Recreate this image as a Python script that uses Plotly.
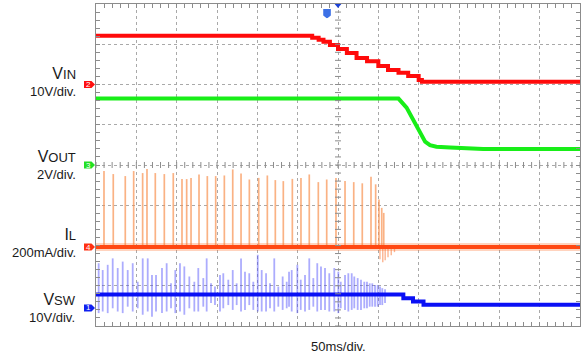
import plotly.graph_objects as go

# Scope screen: 12 horizontal divisions at 50 ms/div, 8 vertical divisions
T_SPAN = 600.0
N_YDIV = 8

# Channel setup: ground level (divisions from bottom) and units per division
VIN_GND, VIN_SCALE = 6.0, 10.0      # V/div
VOUT_GND, VOUT_SCALE = 4.0, 2.0     # V/div
IL_GND, IL_SCALE = 1.96, 200.0      # mA/div
VSW_GND, VSW_SCALE = 0.45, 10.0     # V/div

# VIN (V) - stepped ramp down
vin_t = [0, 268, 276, 282, 290, 300, 311, 323, 336, 350, 362, 375, 387, 400, 404, 600]
vin_v = [12.1, 11.6, 11.1, 10.6, 9.8, 8.8, 7.8, 6.6, 5.8, 4.6, 3.6, 2.9, 2.1, 1.1, 0.7, 0.7]

# VOUT (V)
vout_t = [0, 375, 385, 395, 402, 408, 414, 422, 439, 480, 600]
vout_v = [3.3, 3.3, 2.85, 2.1, 1.6, 1.16, 0.99, 0.91, 0.87, 0.80, 0.80]

# VSW average level (V)
vsw_t = [0, 381, 393, 406, 600]
vsw_v = [3.3, 2.4, 1.6, 0.75, 0.75]

# Inductor current bursts: time (ms) and peak (mA)
il_spk_t = [9.9, 21.4, 36.3, 46.7, 57.8, 63.2, 73.5, 84.7, 95.8, 106.6, 112.4,
            117.8, 127.7, 138.0, 148.4, 159.1, 169.5, 179.8, 190.1, 201.7, 212.4,
            222.3, 232.2, 243.4, 254.1, 264.4, 275.6, 286.0, 297.5, 308.7, 319.5,
            330.1, 340.9, 346.7, 350.8, 354.2, 356.7]
il_spk_pk = [378, 363, 353, 378, 368, 388, 368, 363, 368, 338, 338,
             344, 361, 353, 353, 356, 386, 366, 336, 344, 356,
             333, 328, 339, 344, 361, 323, 336, 344, 328, 323,
             317, 349, 312, 237, 195, 170]
# Ringing dips after the last bursts (ms, mA)
il_dip_t = [352.0, 355.5, 358.5, 362.0, 366.0, 370.0]
il_dip_v = [-60, -75, -65, -50, -40, -25]

# Switch node bursts: time (ms), top (V), bottom (V)
vsw_spk_t = [3.3, 8.3, 14.5, 20.7, 26.9, 33.1, 39.3, 45.5, 51.7, 57.9, 64.1,
             69.4, 74.4, 81.8, 87.6, 93.0, 98.3, 104.1, 109.5, 115.7, 121.9,
             126.8, 133.0, 137.2, 142.6, 147.5, 153.7, 157.8, 164.0, 169.5, 174.4,
             179.8, 184.7, 190.0, 195.0, 200.5, 205.4, 210.8, 215.7, 221.0, 226.0,
             231.4, 236.4, 239.3, 242.6, 249.6, 253.8, 259.1, 264.4, 269.4, 274.3,
             278.9, 283.9, 289.2, 295.4, 300.4, 303.4, 308.7, 312.8, 317.0, 320.2,
             324.4, 328.5, 332.6, 335.9, 339.3, 342.5, 345.9, 349.2, 352.1, 354.9,
             358.3]
vsw_spk_top = [11.1, 9.4, 10.7, 12.3, 9.9, 11.5, 9.4, 11.1, 6.5, 12.3, 12.3,
               8.2, 8.2, 9.9, 11.1, 6.1, 9.4, 11.1, 10.3, 7.8, 6.5,
               9.9, 7.4, 12.3, 6.1, 5.3, 8.2, 8.6, 7.0, 9.4, 6.1,
               12.3, 9.0, 8.6, 6.5, 13.2, 9.4, 8.6, 6.1, 12.3, 5.3,
               7.8, 6.5, 9.0, 9.4, 10.7, 7.0, 8.2, 12.3, 7.4, 11.1,
               10.3, 9.9, 8.6, 9.9, 9.0, 6.5, 8.2, 8.6, 8.6, 7.8,
               7.4, 7.0, 6.5, 6.5, 6.1, 6.1, 5.7, 5.7, 5.3, 4.9,
               4.6]
vsw_spk_bot = [-1.3, -0.9, -1.3, -0.1, -0.9, -1.3, 0.3, -0.9, -0.1, -1.7, -0.9,
               -2.2, -0.9, -1.3, -0.9, -0.1, -1.3, -0.9, -1.7, -0.1, -0.9,
               -0.9, 0.3, -0.9, 1.2, 0.7, -0.9, -0.1, 0.7, -0.5, 0.7,
               -0.9, -0.5, 0.7, -0.5, -0.9, -0.9, -0.9, -0.1, -0.9, 0.3,
               -0.5, -0.1, 0.3, -0.9, -1.3, -0.5, -0.9, -0.5, 0.3, -0.9,
               -0.5, -0.5, -0.9, -0.9, -1.3, -0.1, -0.5, -0.9, -0.5, -0.1,
               -0.5, -0.5, -0.1, -0.1, 0.3, 0.3, 0.3, 0.3, 0.7, 0.7,
               1.2]

# Channel captions: name line, scale line, vertical centre (div)
captions = [
    ("<span style='font-size:16px'>V</span>IN", "10V/div.", 6.06),
    ("<span style='font-size:16px'>V</span>OUT", "2V/div.", 3.99),
    ("<span style='font-size:16px'>I</span>L", "200mA/div.", 2.05),
    ("<span style='font-size:16px'>V</span>SW", "10V/div.", 0.45),
]


def to_div(vals, gnd, scale):
    return [gnd + v / scale for v in vals]


def spikes(ts, lo, hi):
    xs, ys = [], []
    for t, a, b in zip(ts, lo, hi):
        xs += [t, t, None]
        ys += [a, b, None]
    return xs, ys


fig = go.Figure()

# IL
il_x, il_y = spikes(il_spk_t, to_div([0] * len(il_spk_t), IL_GND, IL_SCALE),
                    to_div(il_spk_pk, IL_GND, IL_SCALE))
fig.add_trace(go.Scatter(x=il_x, y=il_y, mode="lines",
                         line=dict(color="rgba(248,145,80,0.7)", width=1.7)))
d_x, d_y = spikes(il_dip_t, to_div([0] * len(il_dip_t), IL_GND, IL_SCALE),
                  to_div(il_dip_v, IL_GND, IL_SCALE))
fig.add_trace(go.Scatter(x=d_x, y=d_y, mode="lines",
                         line=dict(color="rgba(248,130,70,0.6)", width=1.4)))
fig.add_trace(go.Scatter(x=[0, T_SPAN], y=to_div([0, 0], IL_GND, IL_SCALE), mode="lines",
                         line=dict(color="rgba(255,110,40,0.3)", width=8)))
fig.add_trace(go.Scatter(x=[0, T_SPAN], y=to_div([0, 0], IL_GND, IL_SCALE), mode="lines",
                         line=dict(color="#ff4812", width=4)))

# VSW
s_x, s_y = spikes(vsw_spk_t, to_div(vsw_spk_bot, VSW_GND, VSW_SCALE),
                  to_div(vsw_spk_top, VSW_GND, VSW_SCALE))
fig.add_trace(go.Scatter(x=s_x, y=s_y, mode="lines",
                         line=dict(color="rgba(70,70,250,0.45)", width=1.8)))
fig.add_trace(go.Scatter(x=vsw_t, y=to_div(vsw_v, VSW_GND, VSW_SCALE), mode="lines",
                         line=dict(color="#0a10f5", width=4, shape="hv")))

# VOUT
fig.add_trace(go.Scatter(x=vout_t, y=to_div(vout_v, VOUT_GND, VOUT_SCALE), mode="lines",
                         line=dict(color="#18ee18", width=4)))

# VIN
fig.add_trace(go.Scatter(x=vin_t, y=to_div(vin_v, VIN_GND, VIN_SCALE), mode="lines",
                         line=dict(color="#ff0a0a", width=4, shape="hv")))

frame = "#8c8c8c"
grid = "#a9a9a9"
fig.update_xaxes(range=[0, T_SPAN], tick0=0, dtick=50, showgrid=True, gridcolor=grid,
                 griddash="dot", gridwidth=1, showline=True, linecolor=frame, linewidth=1,
                 mirror="ticks", ticks="inside", ticklen=4, tickcolor=frame,
                 minor=dict(dtick=10, ticks="inside", ticklen=4, tickcolor=frame, showgrid=False),
                 showticklabels=False, zeroline=False)
fig.update_yaxes(range=[0, N_YDIV], tick0=0, dtick=1, showgrid=True, gridcolor=grid,
                 griddash="dot", gridwidth=1, showline=True, linecolor=frame, linewidth=1,
                 mirror="ticks", ticks="inside", ticklen=4, tickcolor=frame,
                 minor=dict(dtick=0.2, ticks="inside", ticklen=4, tickcolor=frame, showgrid=False),
                 showticklabels=False, zeroline=False)

shapes = []
# tick marks along the centre cross
for k in range(N_YDIV * 5 + 1):
    shapes.append(dict(type="line", xref="x", yref="y", xsizemode="pixel", xanchor=T_SPAN / 2,
                       x0=-3, x1=3, y0=k * 0.2, y1=k * 0.2, line=dict(color=frame, width=1)))
for k in range(int(T_SPAN / 10) + 1):
    shapes.append(dict(type="line", xref="x", yref="y", ysizemode="pixel", yanchor=N_YDIV / 2,
                       y0=-3, y1=3, x0=k * 10, x1=k * 10, line=dict(color=frame, width=1)))

# channel ground tags
tags = [("2", VIN_GND, "#ff1010"), ("3", VOUT_GND, "#22e022"),
        ("4", IL_GND, "#ff3010"), ("1", VSW_GND, "#1020f0")]
annotations = []
for lab, g, col in tags:
    shapes.append(dict(type="path", xref="paper", yref="paper", xsizemode="pixel",
                       ysizemode="pixel", xanchor=0, yanchor=g / N_YDIV,
                       path="M-12,-3.5 L-4.5,-3.5 L-1,0 L-4.5,3.5 L-12,3.5 Z",
                       fillcolor=col, line=dict(width=0)))
    annotations.append(dict(text=lab, xref="paper", yref="paper", x=0, y=g / N_YDIV,
                            xshift=-7.5, showarrow=False, xanchor="center", yanchor="middle",
                            font=dict(size=8, color="white", family="Liberation Sans")))

# trigger markers on the top edge
trig_t = 286.4
shapes.append(dict(type="path", xref="x", yref="paper", xsizemode="pixel", ysizemode="pixel",
                   xanchor=trig_t, yanchor=1,
                   path="M-3.8,-5 L3.8,-5 L3.8,-11.5 L0,-14.5 L-3.8,-11.5 Z",
                   fillcolor="#3c70e6", line=dict(width=0)))
annotations.append(dict(text="T", xref="x", yref="paper", x=trig_t, y=1, yshift=-9.5,
                        showarrow=False, font=dict(size=8, color="white", family="Liberation Sans")))
shapes.append(dict(type="path", xref="x", yref="paper", xsizemode="pixel", ysizemode="pixel",
                   xanchor=T_SPAN / 2, yanchor=1, path="M-3.3,0 L3.3,0 L0,-4 Z",
                   fillcolor="#1a40d8", line=dict(width=0)))

FONT = "Liberation Sans, Arial, sans-serif"
for name, scale_txt, yd in captions:
    annotations.append(dict(text=name + "<br>" + scale_txt, xref="paper", yref="paper",
                            x=0, y=yd / N_YDIV, xshift=-18, xanchor="right", yanchor="middle",
                            align="right", showarrow=False,
                            font=dict(size=13, color="#1a1a1a", family=FONT)))
annotations.append(dict(text="50ms/div.", xref="paper", yref="paper", x=0.5, y=0, yshift=-20,
                        xanchor="center", yanchor="middle", showarrow=False,
                        font=dict(size=13, color="#1a1a1a", family=FONT)))

fig.update_layout(width=584, height=357, margin=dict(l=96, r=4, t=4, b=31),
                  paper_bgcolor="white", plot_bgcolor="white", showlegend=False,
                  shapes=shapes, annotations=annotations)

fig.write_html("out.html")
